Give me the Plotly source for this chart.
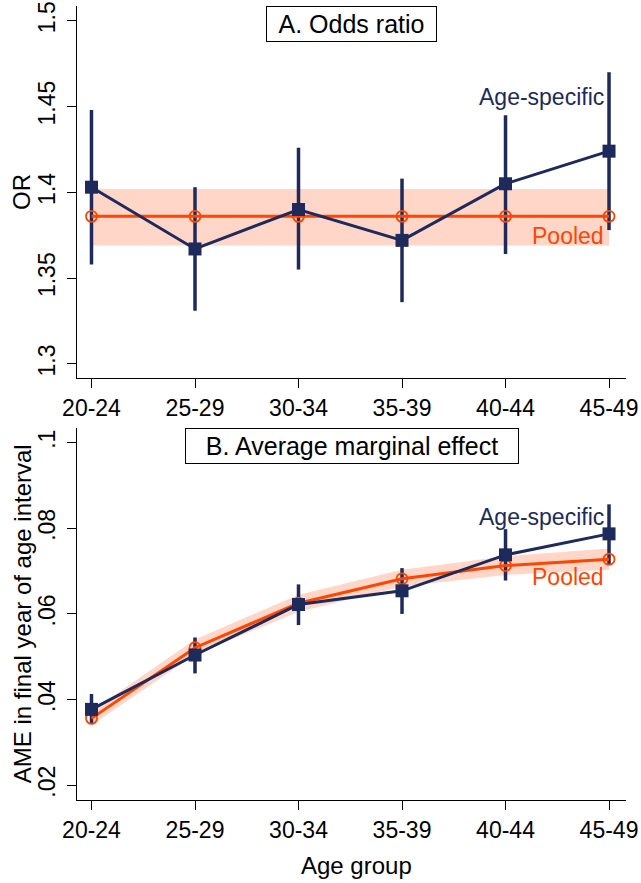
import plotly.graph_objects as go

age_groups = ["20-24", "25-29", "30-34", "35-39", "40-44", "45-49"]

# Panel A: odds ratios
or_age = [1.403, 1.367, 1.390, 1.372, 1.405, 1.424]
or_age_lo = [1.358, 1.331, 1.355, 1.336, 1.364, 1.378]
or_age_hi = [1.448, 1.403, 1.426, 1.408, 1.445, 1.470]
or_pooled = [1.386, 1.386, 1.386, 1.386, 1.386, 1.386]
or_pooled_lo = [1.369, 1.369, 1.369, 1.369, 1.369, 1.369]
or_pooled_hi = [1.402, 1.402, 1.402, 1.402, 1.402, 1.402]
or_ticks = [1.3, 1.35, 1.4, 1.45, 1.5]
or_ticktext = ["1.3", "1.35", "1.4", "1.45", "1.5"]

# Panel B: average marginal effects
ame_age = [0.0377, 0.0504, 0.0622, 0.0654, 0.0738, 0.0787]
ame_age_lo = [0.0345, 0.0461, 0.0574, 0.0600, 0.0678, 0.0714]
ame_age_hi = [0.0413, 0.0545, 0.0669, 0.0707, 0.0798, 0.0856]
ame_pooled = [0.0356, 0.0521, 0.0625, 0.0682, 0.0713, 0.0728]
ame_pooled_lo = [0.0340, 0.0505, 0.0605, 0.0664, 0.0691, 0.0703]
ame_pooled_hi = [0.0373, 0.0540, 0.0645, 0.0703, 0.0735, 0.0753]
ame_ticks = [0.02, 0.04, 0.06, 0.08, 0.1]
ame_ticktext = [".02", ".04", ".06", ".08", ".1"]

NAVY = "#1d2a5b"
ORANGE = "#ff4500"
BAND = "rgba(255,69,0,0.22)"
FONT = "Liberation Sans, Arial, Helvetica, sans-serif"


def add_panel(fig, xa, ya, est, lo, hi, pooled, plo, phi):
    # pooled confidence band
    fig.add_trace(go.Scatter(x=age_groups, y=plo, mode="lines",
                             line=dict(width=0), xaxis=xa, yaxis=ya,
                             hoverinfo="skip"))
    fig.add_trace(go.Scatter(x=age_groups, y=phi, mode="lines",
                             line=dict(width=0), fill="tonexty",
                             fillcolor=BAND, xaxis=xa, yaxis=ya,
                             hoverinfo="skip"))
    # age-specific CI spikes
    cx, cy = [], []
    for g, l, h in zip(age_groups, lo, hi):
        cx += [g, g, None]
        cy += [l, h, None]
    fig.add_trace(go.Scatter(x=cx, y=cy, mode="lines",
                             line=dict(color=NAVY, width=3.5),
                             xaxis=xa, yaxis=ya))
    # pooled estimate
    fig.add_trace(go.Scatter(x=age_groups, y=pooled, mode="lines+markers",
                             line=dict(color=ORANGE, width=3),
                             marker=dict(symbol="circle-open", size=11,
                                         color=ORANGE, line=dict(width=1.8)),
                             xaxis=xa, yaxis=ya))
    # age-specific estimate
    fig.add_trace(go.Scatter(x=age_groups, y=est, mode="lines+markers",
                             line=dict(color=NAVY, width=3),
                             marker=dict(symbol="square", size=13, color=NAVY),
                             xaxis=xa, yaxis=ya))


fig = go.Figure()
add_panel(fig, "x", "y", or_age, or_age_lo, or_age_hi,
          or_pooled, or_pooled_lo, or_pooled_hi)
add_panel(fig, "x2", "y2", ame_age, ame_age_lo, ame_age_hi,
          ame_pooled, ame_pooled_lo, ame_pooled_hi)

axis_style = dict(showline=True, linecolor="black", linewidth=1.3,
                  ticks="outside", ticklen=9, tickwidth=1.3, tickcolor="black",
                  showgrid=False, zeroline=False, automargin=False,
                  tickfont=dict(size=23, color="black"))

fig.update_layout(
    width=641, height=883,
    margin=dict(l=77, r=15, t=6, b=83),
    plot_bgcolor="white", paper_bgcolor="white",
    showlegend=False,
    font=dict(family=FONT, color="black"),
    xaxis=dict(axis_style, anchor="y", domain=[0, 1], type="category",
               range=[-0.14, 5.164]),
    yaxis=dict(axis_style, anchor="x", domain=[0.5315, 1],
               range=[1.2918, 1.5086], tickvals=or_ticks,
               ticktext=or_ticktext, tickangle=-90, ticklabelstandoff=3),
    xaxis2=dict(axis_style, anchor="y2", domain=[0, 1], type="category",
                range=[-0.14, 5.164]),
    yaxis2=dict(axis_style, anchor="x2", domain=[0, 0.4685],
                range=[0.01653, 0.10343], tickvals=ame_ticks,
                ticktext=ame_ticktext, tickangle=-90, ticklabelstandoff=3),
)

# axis titles
fig.add_annotation(text="OR", xref="paper", yref="paper", x=-0.102, y=0.7657,
                   xanchor="center", yanchor="middle", textangle=-90,
                   showarrow=False, font=dict(size=24))
fig.add_annotation(text="AME in final year of age interval", xref="paper",
                   yref="paper", x=-0.098, y=0.2343, xanchor="center",
                   yanchor="middle", textangle=-90, showarrow=False,
                   font=dict(size=24))
fig.add_annotation(text="Age group", xref="paper", yref="paper", x=0.51,
                   y=-0.082, xanchor="center", yanchor="middle",
                   showarrow=False, font=dict(size=24))

# panel titles in boxes
fig.add_annotation(text="A. Odds ratio", xref="paper", yref="paper",
                   x=0.5, y=1, xanchor="center", yanchor="top",
                   showarrow=False, font=dict(size=25),
                   bordercolor="black", borderwidth=1, borderpad=2,
                   bgcolor="white", width=165, height=30)
fig.add_annotation(text="B. Average marginal effect", xref="paper", yref="paper",
                   x=0.5, y=0.4685, xanchor="center", yanchor="top",
                   showarrow=False, font=dict(size=25),
                   bordercolor="black", borderwidth=1, borderpad=2,
                   bgcolor="white", width=328, height=30)

# series labels
fig.add_annotation(text="Age-specific", xref="x", yref="y", x="45-49", y=1.4555,
                   xanchor="right", xshift=-3, showarrow=False,
                   font=dict(size=23, color=NAVY))
fig.add_annotation(text="Pooled", xref="x", yref="y", x="45-49", y=1.3745,
                   xanchor="right", xshift=-3, showarrow=False,
                   font=dict(size=23, color=ORANGE))
fig.add_annotation(text="Age-specific", xref="x2", yref="y2", x="45-49", y=0.0826,
                   xanchor="right", xshift=-3, showarrow=False,
                   font=dict(size=23, color=NAVY))
fig.add_annotation(text="Pooled", xref="x2", yref="y2", x="45-49", y=0.0686,
                   xanchor="right", xshift=-3, showarrow=False,
                   font=dict(size=23, color=ORANGE))

# drop the page's default body margin so the figure sits at the window's corner
fig.write_html("out.html", config={"displayModeBar": False},
               post_script="document.body.style.margin='0';")
